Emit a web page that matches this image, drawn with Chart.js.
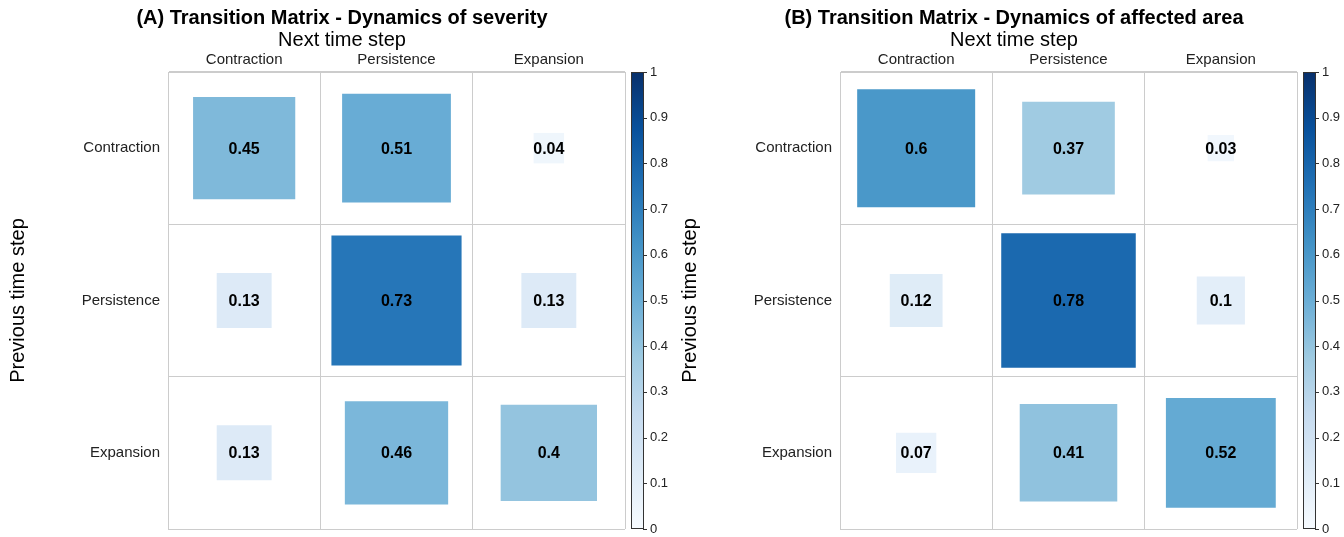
<!DOCTYPE html>
<html>
<head>
<meta charset="utf-8">
<script src="https://cdn.jsdelivr.net/npm/chart.js@4/dist/chart.umd.min.js"></script>
<style>
  body { margin: 0; background: #fff; }
  .panel { position: absolute; top: 0; width: 672px; height: 537px; }
</style>
</head>
<body>
<div class="panel" style="left:0"><canvas id="chartA" width="672" height="537"></canvas></div>
<div class="panel" style="left:672px"><canvas id="chartB" width="672" height="537"></canvas></div>
<script>
  /* Data */
  var states = ['Contraction', 'Persistence', 'Expansion'];
  // rows = previous time step, columns = next time step
  var severity = [
    [0.45, 0.51, 0.04],
    [0.13, 0.73, 0.13],
    [0.13, 0.46, 0.4]
  ];
  var affectedArea = [
    [0.6, 0.37, 0.03],
    [0.12, 0.78, 0.1],
    [0.07, 0.41, 0.52]
  ];
  var legendTicks = [0, 0.1, 0.2, 0.3, 0.4, 0.5, 0.6, 0.7, 0.8, 0.9, 1];

  var blues = ['#f7fbff', '#deebf7', '#c6dbef', '#9ecae1', '#6baed6', '#4292c6', '#2171b5', '#08519c', '#08306b'];

  function hexToRgb(h) {
    return [parseInt(h.substr(1, 2), 16), parseInt(h.substr(3, 2), 16), parseInt(h.substr(5, 2), 16)];
  }
  function bluesColor(v) {
    var t = Math.max(0, Math.min(1, v)) * (blues.length - 1);
    var i = Math.min(Math.floor(t), blues.length - 2);
    var f = t - i;
    var a = hexToRgb(blues[i]), b = hexToRgb(blues[i + 1]);
    var c = a.map(function (x, k) { return Math.round(x + (b[k] - x) * f); });
    return 'rgb(' + c.join(',') + ')';
  }

  function toPoints(matrix) {
    var pts = [];
    matrix.forEach(function (row, r) {
      row.forEach(function (v, c) {
        pts.push({ x: states[c], y: states[r], v: v });
      });
    });
    return pts;
  }

  Chart.defaults.font.family = '"Liberation Sans", Arial, Helvetica, sans-serif';
  Chart.defaults.color = '#333';

  // square side = cell size * sqrt(value)
  function squareRadius(ctx) {
    var sx = ctx.chart.scales.x;
    var cell = Math.abs(sx.getPixelForValue(1) - sx.getPixelForValue(0));
    var side = cell * Math.sqrt(ctx.raw.v);
    return side / Math.SQRT2;
  }

  var cellLabels = {
    id: 'cellLabels',
    afterDatasetsDraw: function (chart) {
      var ctx = chart.ctx;
      var meta = chart.getDatasetMeta(0);
      var data = chart.data.datasets[0].data;
      ctx.save();
      ctx.fillStyle = '#000';
      ctx.font = 'bold 16px "Liberation Sans", Arial, sans-serif';
      ctx.textAlign = 'center';
      ctx.textBaseline = 'middle';
      meta.data.forEach(function (el, i) {
        ctx.fillText(String(data[i].v), el.x, el.y + 1);
      });
      ctx.restore();
    }
  };

  var colorBar = {
    id: 'colorBar',
    beforeDatasetsDraw: function (chart) {
      var ctx = chart.ctx;
      var s = chart.scales.legend;
      var x0 = chart.chartArea.right + 6, w = 12;
      var yTop = s.getPixelForValue(1), yBot = s.getPixelForValue(0);
      var g = ctx.createLinearGradient(0, yBot, 0, yTop);
      blues.forEach(function (c, i) { g.addColorStop(i / (blues.length - 1), c); });
      ctx.save();
      ctx.fillStyle = g;
      ctx.fillRect(x0, yTop, w, yBot - yTop);
      ctx.strokeStyle = '#333';
      ctx.lineWidth = 1;
      ctx.strokeRect(x0 + 0.5, yTop + 0.5, w, yBot - yTop - 1);
      legendTicks.forEach(function (t) {
        var y = Math.round(s.getPixelForValue(t)) + 0.5;
        ctx.beginPath();
        ctx.moveTo(x0 + w, y);
        ctx.lineTo(x0 + w + 4, y);
        ctx.stroke();
      });
      ctx.restore();
    }
  };

  function makeChart(id, title, matrix) {
    var ctx = document.getElementById(id).getContext('2d');
    return new Chart(ctx, {
      type: 'scatter',
      data: {
        datasets: [{
          data: toPoints(matrix),
          pointStyle: 'rect',
          pointRadius: squareRadius,
          pointHoverRadius: squareRadius,
          backgroundColor: function (c) { return bluesColor(c.raw.v); },
          hoverBackgroundColor: function (c) { return bluesColor(c.raw.v); },
          borderWidth: 0,
          hoverBorderWidth: 0
        }]
      },
      options: {
        responsive: false,
        animation: false,
        events: [],
        layout: { padding: { left: 12, right: 0, top: 0, bottom: 8 } },
        scales: {
          x: {
            type: 'category',
            labels: states,
            position: 'top',
            offset: true,
            grid: { offset: true, color: '#cccccc', drawTicks: false },
            border: { color: '#cccccc' },
            ticks: { font: { size: 15 }, padding: 3, color: '#222' },
            afterFit: function (scale) { scale.height = 22; }
          },
          y: {
            type: 'category',
            labels: states,
            offset: true,
            grid: { offset: true, color: '#cccccc', drawTicks: false },
            border: { color: '#cccccc' },
            ticks: { font: { size: 15 }, padding: 8, color: '#222' },
            title: {
              display: true,
              text: 'Previous time step',
              color: '#000',
              font: { size: 20, lineHeight: 1.2 },
              padding: { top: -6, bottom: 0 }
            },
            afterFit: function (scale) {
              scale.width = 156;
              scale.paddingTop = 0;
              scale.paddingBottom = 0;
            }
          },
          legend: {
            type: 'linear',
            position: 'right',
            min: 0,
            max: 1,
            afterBuildTicks: function (scale) {
              scale.ticks = legendTicks.map(function (v) { return { value: v }; });
            },
            grid: { display: false, drawTicks: false },
            border: { display: false },
            ticks: {
              font: { size: 13 },
              padding: 25,
              color: '#222',
              callback: function (v) { return String(v); }
            },
            afterFit: function (scale) {
              scale.width = 47;
              scale.paddingTop = 0;
              scale.paddingBottom = 0;
            }
          }
        },
        plugins: {
          legend: { display: false },
          tooltip: { enabled: false },
          title: {
            display: true,
            text: title,
            color: '#000',
            font: { size: 20, weight: 'bold', lineHeight: 1 },
            padding: { top: 8, bottom: 0 }
          },
          subtitle: {
            display: true,
            text: 'Next time step',
            color: '#000',
            font: { size: 20, lineHeight: 1 },
            padding: { top: 2, bottom: 0 }
          }
        }
      },
      plugins: [colorBar, cellLabels]
    });
  }

  makeChart('chartA', '(A) Transition Matrix - Dynamics of severity', severity);
  makeChart('chartB', '(B) Transition Matrix - Dynamics of affected area', affectedArea);
</script>
</body>
</html>
